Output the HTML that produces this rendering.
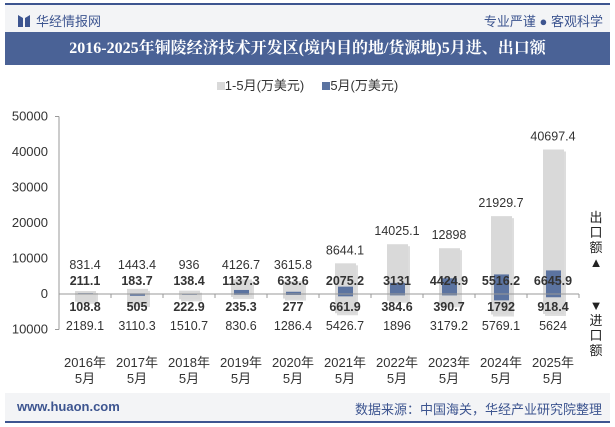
<!DOCTYPE html>
<html><head><meta charset="utf-8"><style>
body{margin:0;width:615px;height:427px;background:#fff;font-family:"Liberation Sans","Noto Sans CJK SC",sans-serif;position:relative;overflow:hidden}
.a{position:absolute}
</style></head><body>
<div class="a" style="left:5px;top:3px;width:605px;height:2px;background:#3d5590"></div>
<div class="a" style="left:5px;top:5px;width:605px;height:27px;background:#f3f4f6"></div>
<div class="a" style="left:18px;top:11px;font-size:13px;color:#3d5590;display:flex;align-items:center;gap:6px"><svg width="12" height="14"><path d="M0 1 L5 4 L5 13 L0 13Z M12 1 L7 4 L7 13 L12 13Z" fill="#3d5590"/></svg><span>华经情报网</span></div>
<div class="a" style="right:12px;top:11px;font-size:13px;color:#3d5590">专业严谨 ● 客观科学</div>
<div class="a" style="left:5px;top:32px;width:605px;height:33px;background:#4a6296;color:#fff;font-weight:bold;font-size:16px;line-height:33px;text-align:center;font-family:'Liberation Serif','Noto Serif CJK SC',serif">2016-2025年铜陵经济技术开发区(境内目的地/货源地)5月进、出口额</div>
<div class="a" style="left:0;width:615px;top:75px;text-align:center;font-size:13px;color:#333">
<span><span style="display:inline-block;width:8px;height:8px;background:#d9d9d9"></span>1-5月(万美元)</span>&nbsp;&nbsp;&nbsp;&nbsp;
<span><span style="display:inline-block;width:8px;height:8px;background:#5b73a0"></span>5月(万美元)</span></div>
<svg class="a" style="left:0;top:0" width="615" height="427" id="chart"></svg>
<div class="a" style="left:589px;top:210px;width:14px;font-size:13px;line-height:15px;color:#222;text-align:center">出<br>口<br>额<br>▲</div>
<div class="a" style="left:589px;top:298px;width:14px;font-size:13px;line-height:15px;color:#222;text-align:center">▼<br>进<br>口<br>额</div>
<div class="a" style="left:5px;top:393px;width:605px;height:29px;background:#f3f4f6"></div>
<div class="a" style="left:17px;top:399px;font-size:13px;color:#3d5590;font-weight:bold">www.huaon.com</div>
<div class="a" style="right:13px;top:399px;font-size:13px;color:#3d5590">数据来源：中国海关，华经产业研究院整理</div>
<div class="a" style="left:5px;top:421px;width:605px;height:2px;background:#3d5590"></div>
<script>
const categories=["2016年","2017年","2018年","2019年","2020年","2021年","2022年","2023年","2024年","2025年"];
const exportCum=[831.4,1443.4,936,4126.7,3615.8,8644.1,14025.1,12898,21929.7,40697.4];
const exportMonth=[211.1,183.7,138.4,1137.3,633.6,2075.2,3131,4424.9,5516.2,6645.9];
const importMonth=[108.8,505,222.9,235.3,277,661.9,384.6,390.7,1792,918.4];
const importCum=[2189.1,3110.3,1510.7,830.6,1286.4,5426.7,1896,3179.2,5769.1,5624];
const yTicks=[50000,40000,30000,20000,10000,0,-10000];
const svg=document.getElementById('chart');const NS='http://www.w3.org/2000/svg';
const x0=59,bw=52,zeroY=294,k=35.5/10000;
const y=v=>zeroY-v*k;const xc=i=>x0+bw*i+bw/2;
function el(t,a,txt){const e=document.createElementNS(NS,t);for(const n in a)e.setAttribute(n,a[n]);if(txt!==undefined)e.textContent=txt;svg.appendChild(e);return e;}
yTicks.forEach(v=>{const t=el('text',{x:48,y:y(v)+4,'text-anchor':'end','font-size':13,fill:'#333'},String(Math.abs(v)));

});
const ax=el('line',{x1:x0-4,x2:x0,y1:y(50000),y2:y(50000),stroke:'#999'});

const ya=el('line',{x1:x0,x2:x0,y1:y(50000),y2:y(-10000),stroke:'#999'});

const ax2=el('line',{x1:x0-4,x2:x0,y1:y(-10000),y2:y(-10000),stroke:'#999'});

categories.forEach((c,i)=>{
 const cx=xc(i);
 const g1=el('rect',{x:cx-10+2,y:y(exportCum[i])+2,width:21,height:(y(0)-y(exportCum[i]))+(y(-importCum[i])-y(0)),fill:'#bbb',opacity:0.5});
 
 const g=el('rect',{x:cx-10,y:y(exportCum[i]),width:21,height:y(0)-y(exportCum[i]),fill:'#d9d9d9'});
 
 const gi=el('rect',{x:cx-10,y:y(0),width:21,height:y(-importCum[i])-y(0),fill:'#d9d9d9'});
 
 const b=el('rect',{x:cx-7,y:y(exportMonth[i]),width:15,height:y(0)-y(exportMonth[i]),fill:'#5b73a0'});
 
 const bi=el('rect',{x:cx-7,y:y(0),width:15,height:y(-importMonth[i])-y(0),fill:'#5b73a0'});
 
 const l1=el('text',{x:cx,y:Math.min(y(exportCum[i])-13,265)+4,'text-anchor':'middle','font-size':12.5,fill:'#333'},String(exportCum[i]));
 
 const l2=el('text',{x:cx,y:285,'text-anchor':'middle','font-size':12.5,'font-weight':'bold',fill:'#333'},String(exportMonth[i]));
 
 const l3=el('text',{x:cx,y:311,'text-anchor':'middle','font-size':12.5,'font-weight':'bold',fill:'#333'},String(importMonth[i]));
 
 const l4=el('text',{x:cx,y:330,'text-anchor':'middle','font-size':12.5,fill:'#333'},String(importCum[i]));
 
 const c1=el('text',{x:cx,y:367,'text-anchor':'middle','font-size':13,fill:'#333'},c);
 
 const c2=el('text',{x:cx,y:383,'text-anchor':'middle','font-size':13,fill:'#333'},'5月');
 
 const tk=el('line',{x1:x0+bw*(i+1),x2:x0+bw*(i+1),y1:zeroY,y2:zeroY+4,stroke:'#999'});
 
});
const xa=el('line',{x1:x0,x2:x0+bw*10,y1:zeroY,y2:zeroY,stroke:'#999'});

</script>
</body></html>
